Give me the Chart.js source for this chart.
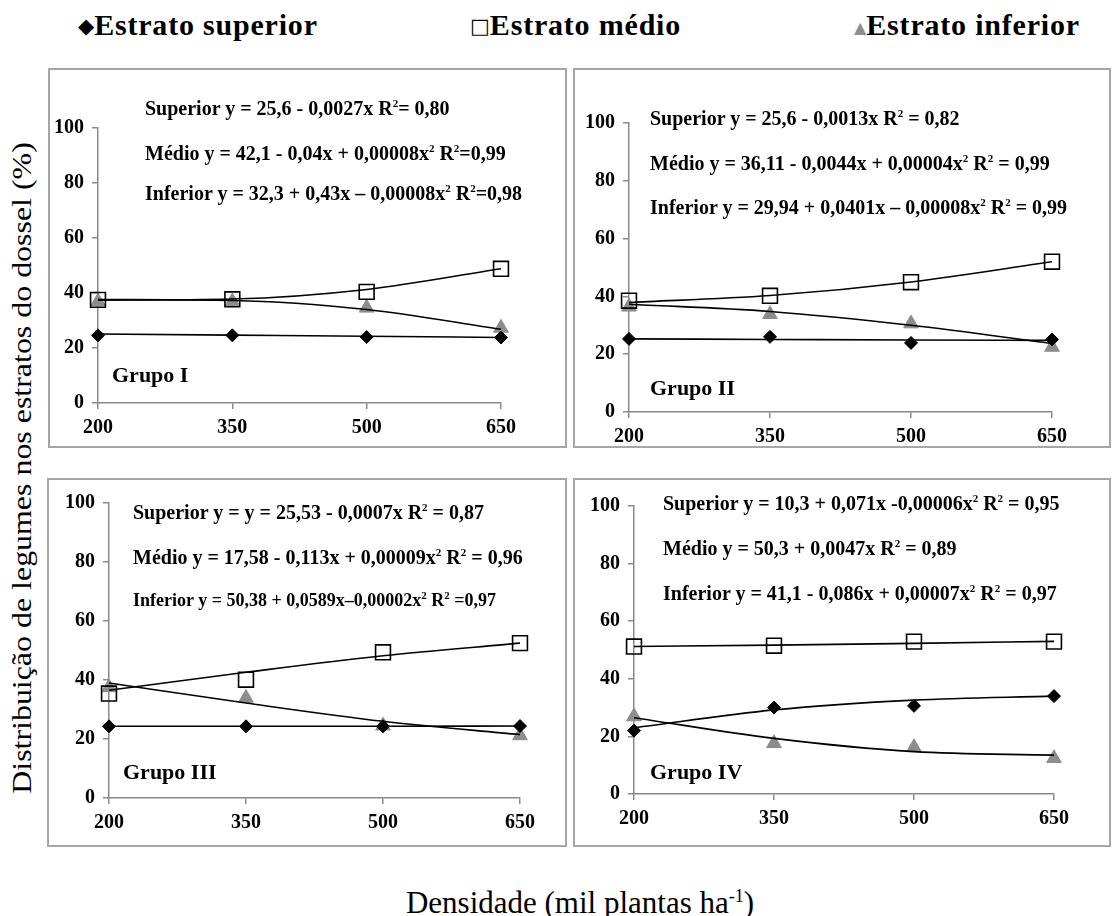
<!DOCTYPE html>
<html>
<head>
<meta charset="utf-8">
<script src="https://cdn.jsdelivr.net/npm/chart.js@4.4.0/dist/chart.umd.min.js"></script>
<style>
  body { margin:0; width:1113px; height:916px; background:#fff; position:relative; overflow:hidden;
         font-family:"Liberation Serif","Times New Roman",serif; color:#000; }
  .box { position:absolute; border:2px solid #a6a6a6; box-sizing:border-box; }
  .cv { position:absolute; }
  .eq { position:absolute; font-family:"Liberation Serif",serif; font-weight:bold; font-size:20px; white-space:nowrap; transform:translateY(-50%); }
  .eq sup { font-size:11px; }
  .grp { position:absolute; font-family:"Liberation Serif",serif; font-weight:bold; font-size:22px; white-space:nowrap; transform:translateY(-50%); }
  .leg { position:absolute; top:25px; font-family:"Liberation Serif",serif; font-weight:bold; font-size:30px; letter-spacing:0.8px; white-space:nowrap; transform:translateY(-50%); }
  .leg span { font-family:"DejaVu Sans",sans-serif; font-size:21px; letter-spacing:0; vertical-align:2px; }
  .ytitle { position:absolute; left:22px; top:468px; font-size:28px; white-space:nowrap; transform:translate(-50%,-50%) rotate(-90deg) scaleX(1.14); }
  .xtitle { position:absolute; left:580px; top:903px; font-size:31px; white-space:nowrap; transform:translate(-50%,-50%); }
  .xtitle sup { font-size:18px; }
</style>
</head>
<body>

<div class="leg" style="left:78px"><span>◆</span>Estrato superior</div>
<div class="leg" style="left:470px"><span>□</span>Estrato médio</div>
<div class="leg" style="left:854px"><span style="color:#8c8c8c;font-size:16px">▲</span>Estrato inferior</div>

<div class="ytitle">Distribuição de legumes nos estratos do dossel (%)</div>
<div class="xtitle">Densidade (mil plantas ha<sup>-1</sup>)</div>

<script>
// densidades (eixo x)
const categories = ['200', '350', '500', '650'];

// Grupo I
const g1Sup = [24.6, 24.6, 24.0, 23.8];
const g1Med = [37.5, 37.7, 40.4, 48.8];
const g1Inf = [36.9, 36.9, 34.6, 27.3];
const g1SupFit = [25.1, 24.7, 24.3, 23.8];
const g1MedFit = [37.4, 37.8, 41.3, 48.8];
const g1InfFit = [37.6, 37.3, 34.0, 26.8];

// Grupo II
const g2Sup = [25.3, 26.0, 23.9, 25.1];
const g2Med = [38.5, 40.2, 44.9, 52.0];
const g2Inf = [36.4, 33.8, 30.6, 22.5];
const g2SupFit = [25.3, 25.1, 24.9, 24.8];
const g2MedFit = [37.9, 40.3, 45.0, 52.0];
const g2InfFit = [37.3, 34.8, 30.0, 23.7];

// Grupo III
const g3Sup = [24.3, 24.3, 24.3, 24.4];
const g3Med = [35.4, 40.1, 49.4, 52.5];
const g3Inf = [37.5, 33.9, 24.5, 21.2];
const g3SupFit = [24.3, 24.3, 24.3, 24.4];
const g3MedFit = [36.5, 42.6, 48.2, 52.5];
const g3InfFit = [39.0, 32.2, 26.0, 21.5];

// Grupo IV
const g4Sup = [22.0, 30.0, 30.6, 34.0];
const g4Med = [51.2, 51.5, 52.9, 52.9];
const g4Inf = [26.9, 17.6, 16.2, 12.4];
const g4SupFit = [23.0, 29.2, 32.6, 34.0];
const g4MedFit = [51.2, 51.7, 52.3, 53.0];
const g4InfFit = [26.5, 19.3, 14.7, 13.5];

const yTicks = [0, 20, 40, 60, 80, 100];

const eq1 = ['Superior y = 25,6 - 0,0027x R<sup>2</sup>= 0,80',
             'Médio y = 42,1 - 0,04x + 0,00008x<sup>2</sup> R<sup>2</sup>=0,99',
             'Inferior y = 32,3 + 0,43x – 0,00008x<sup>2</sup> R<sup>2</sup>=0,98'];
const eq2 = ['Superior y = 25,6 - 0,0013x R<sup>2</sup> = 0,82',
             'Médio y = 36,11 - 0,0044x + 0,00004x<sup>2</sup> R<sup>2</sup> = 0,99',
             'Inferior y = 29,94 + 0,0401x – 0,00008x<sup>2</sup> R<sup>2</sup> = 0,99'];
const eq3 = ['Superior y = y = 25,53 - 0,0007x R<sup>2</sup> = 0,87',
             'Médio y = 17,58 - 0,113x + 0,00009x<sup>2</sup> R<sup>2</sup> = 0,96',
             'Inferior y = 50,38 + 0,0589x–0,00002x<sup>2</sup> R<sup>2</sup> =0,97'];
const eq4 = ['Superior y = 10,3 + 0,071x -0,00006x<sup>2</sup> R<sup>2</sup> = 0,95',
             'Médio y = 50,3 + 0,0047x R<sup>2</sup> = 0,89',
             'Inferior y = 41,1 - 0,086x + 0,00007x<sup>2</sup> R<sup>2</sup> = 0,97'];

const panels = [
  { name:'Grupo  I',   box:[48, 68, 519, 380],  pad:[50, 60, 66, 45], eqs:eq1, eqX:145, eqY:[108,153,193], gx:112, gy:375, eqSize:[20,20,20],
    d:[g1Sup, g1Med, g1Inf, g1SupFit, g1MedFit, g1InfFit] },
  { name:'Grupo  II',  box:[573, 68, 538, 380], pad:[56, 55, 59, 36], eqs:eq2, eqX:650, eqY:[118,163,207], gx:650, gy:388, eqSize:[20,20,20],
    d:[g2Sup, g2Med, g2Inf, g2SupFit, g2MedFit, g2InfFit] },
  { name:'Grupo  III', box:[47, 478, 520, 369], pad:[62, 25, 47, 49], eqs:eq3, eqX:133, eqY:[512,557,600], gx:123, gy:772, eqSize:[20,20,18],
    d:[g3Sup, g3Med, g3Inf, g3SupFit, g3MedFit, g3InfFit] },
  { name:'Grupo  IV',  box:[573, 478, 538, 369], pad:[61, 28, 57, 53], eqs:eq4, eqX:663, eqY:[503,548,593], gx:650, gy:772, eqSize:[20,20,20],
    d:[g4Sup, g4Med, g4Inf, g4SupFit, g4MedFit, g4InfFit] }
];

const tickFont = { family:'"Liberation Serif", serif', size:20, weight:'bold' };

function fitLine(data) {
  return { type:'line', data:data, borderColor:'#000', borderWidth:1.6, pointRadius:0,
           cubicInterpolationMode:'monotone', fill:false, clip:false, order:2 };
}

panels.forEach(function(p, i) {
  var b = document.createElement('div');
  b.className = 'box';
  b.style.cssText = 'left:'+p.box[0]+'px;top:'+p.box[1]+'px;width:'+p.box[2]+'px;height:'+p.box[3]+'px';
  document.body.appendChild(b);

  var wrap = document.createElement('div');
  wrap.className = 'cv';
  wrap.style.cssText = 'left:'+p.box[0]+'px;top:'+p.box[1]+'px;width:'+p.box[2]+'px;height:'+p.box[3]+'px';
  var cv = document.createElement('canvas');
  wrap.appendChild(cv);
  document.body.appendChild(wrap);

  p.eqs.forEach(function(t, k) {
    var e = document.createElement('div');
    e.className = 'eq';
    e.innerHTML = t;
    e.style.left = p.eqX + 'px';
    e.style.top = p.eqY[k] + 'px';
    e.style.fontSize = p.eqSize[k] + 'px';
    document.body.appendChild(e);
  });
  var g = document.createElement('div');
  g.className = 'grp';
  g.textContent = p.name;
  g.style.left = p.gx + 'px';
  g.style.top = p.gy + 'px';
  document.body.appendChild(g);

  new Chart(cv, {
    type: 'line',
    data: {
      labels: categories,
      datasets: [
        fitLine(p.d[3]), fitLine(p.d[4]), fitLine(p.d[5]),
        { label:'Estrato superior', data:p.d[0], showLine:false, pointStyle:'rectRot', pointRadius:6.5,
          pointBackgroundColor:'#000', pointBorderColor:'#000', pointBorderWidth:1, clip:false, order:1 },
        { label:'Estrato médio', data:p.d[1], showLine:false, pointStyle:'rect', pointRadius:10.5,
          pointBackgroundColor:'rgba(255,255,255,0)', pointBorderColor:'#000', pointBorderWidth:1.6, clip:false, order:0 },
        { label:'Estrato inferior', data:p.d[2], showLine:false, pointStyle:'triangle', pointRadius:8.5,
          pointBackgroundColor:'#8c8c8c', pointBorderColor:'#8c8c8c', pointBorderWidth:1, clip:false, order:3 }
      ]
    },
    options: {
      responsive: true,
      maintainAspectRatio: false,
      animation: false,
      layout: { padding: { left:0, top:p.pad[1], right:p.pad[2], bottom:0 } },
      plugins: { legend:{ display:false }, tooltip:{ enabled:false } },
      scales: {
        x: {
          offset: false,
          grid: { drawOnChartArea:false, drawTicks:true, tickLength:6, color:'#8a8a8a', lineWidth:1.5 },
          border: { color:'#8a8a8a', width:1.5 },
          ticks: { font:tickFont, color:'#000', padding:7, maxRotation:0 },
          afterFit: function(s) { s.height = p.pad[3]; }
        },
        y: {
          min: 0, max: 100,
          afterBuildTicks: function(s) { s.ticks = yTicks.map(function(v){ return { value:v }; }); },
          grid: { drawOnChartArea:false, drawTicks:true, tickLength:6, color:'#8a8a8a', lineWidth:1.5 },
          border: { color:'#8a8a8a', width:1.5 },
          ticks: { font:tickFont, color:'#000', padding:8 },
          afterFit: function(s) { s.width = p.pad[0]; }
        }
      }
    }
  });
});
</script>
</body>
</html>
